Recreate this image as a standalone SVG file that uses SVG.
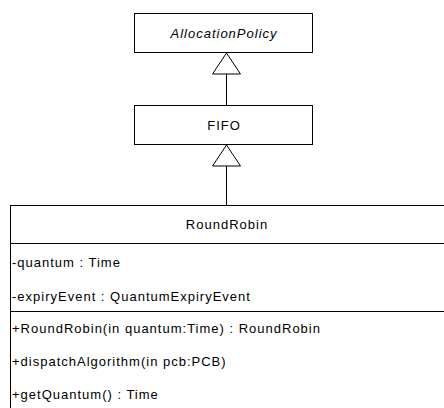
<svg xmlns="http://www.w3.org/2000/svg" width="444" height="408" viewBox="0 0 444 408">
<defs>
<style>
.box{fill:#fff;stroke:#000;stroke-width:1;shape-rendering:crispEdges}
.sep{stroke:#000;stroke-width:1;shape-rendering:crispEdges}
.t{font-family:"Liberation Sans",Arial,sans-serif;font-size:13px;fill:#000;letter-spacing:1px}
.c{text-anchor:middle}
.edge{stroke:#000;stroke-width:1;fill:none}
</style>
<marker id="gen" viewBox="0 0 22 29" refX="22" refY="14.5" markerWidth="22" markerHeight="29" markerUnits="userSpaceOnUse" orient="auto">
<path d="M0.5,0.5 L21.5,14.5 L0.5,28.5 Z" fill="#fff" stroke="#000" stroke-width="1"/>
</marker>
</defs>
<rect width="444" height="408" fill="#fff"/>
<g id="connectors">
<line class="edge" x1="226.5" y1="105" x2="226.5" y2="52.5" marker-end="url(#gen)"/>
<line class="edge" x1="226.5" y1="205" x2="226.5" y2="144.5" marker-end="url(#gen)"/>
</g>
<g id="AllocationPolicy">
<rect class="box" x="134.5" y="13.5" width="178" height="39"/>
<text class="t c" x="224" y="37.5" font-style="italic" letter-spacing="1.8">AllocationPolicy</text>
</g>
<g id="FIFO">
<rect class="box" x="134.5" y="105.5" width="178" height="39"/>
<text class="t c" x="224" y="129.5" letter-spacing="2.5">FIFO</text>
</g>
<g id="RoundRobin">
<rect class="box" x="10.5" y="205.5" width="440" height="220"/>
<line class="sep" x1="10" y1="243.5" x2="444" y2="243.5"/>
<line class="sep" x1="10" y1="311.5" x2="444" y2="311.5"/>
<text class="t c" x="227" y="229">RoundRobin</text>
<text class="t" x="12" y="267">-quantum : Time</text>
<text class="t" x="12" y="301">-expiryEvent : QuantumExpiryEvent</text>
<text class="t" x="12" y="333">+RoundRobin(in quantum:Time) : RoundRobin</text>
<text class="t" x="12" y="366">+dispatchAlgorithm(in pcb:PCB)</text>
<text class="t" x="12" y="399">+getQuantum() : Time</text>
</g>
</svg>
